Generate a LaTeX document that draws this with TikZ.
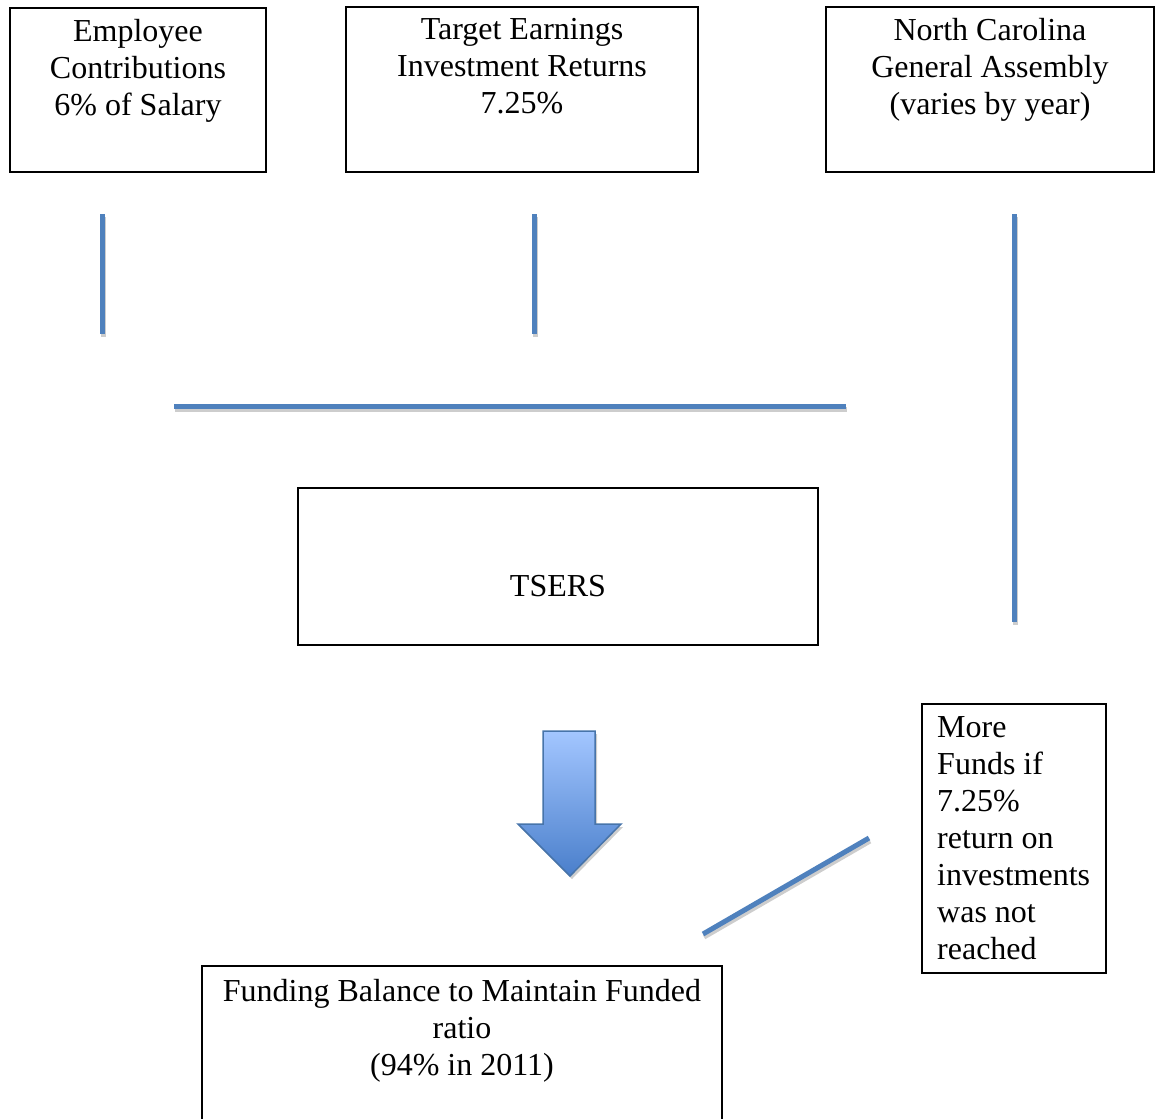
\documentclass[tikz,border=0pt]{standalone}
\usepackage{fontspec}
\setmainfont{Liberation Serif}
\usetikzlibrary{calc}
\definecolor{lineblue}{HTML}{4F81BD}
\definecolor{arrowtop}{HTML}{A3C6FF}
\definecolor{arrowbot}{HTML}{4A7FCB}
\definecolor{shadowgray}{HTML}{CDCDCD}
\tikzset{box/.style={draw, line width=1.5pt, inner sep=0pt},
  txt/.style={inner sep=0pt, align=center, font=\fontsize{32}{37}\selectfont},
  feed/.style={lineblue, line width=5pt, preaction={draw=shadowgray, line width=5pt, transform canvas={shift={(1pt,-3pt)}}}}}

\begin{document}
\begin{tikzpicture}[x=1pt,y=-1pt]
  \useasboundingbox (0,0) rectangle (1155,1118);

  % sources
  \node[box,minimum width=256,minimum height=164] (emp) at (138,90) {};
  \node[txt,anchor=north] (emptxt) at (138,19) {Employee\\Contributions\\6\% of Salary};
  \node[box,minimum width=352,minimum height=165] (ret) at (522,89.5) {};
  \node[txt,anchor=north] (rettxt) at (522,18) {Target Earnings\\Investment Returns\\7.25\%};
  \node[box,minimum width=328,minimum height=165] (nga) at (990,89.5) {};
  \node[txt,anchor=north] (ngatxt) at (990,18) {North Carolina\\General Assembly\\(varies by year)};

  % TSERS
  \node[box,minimum width=520,minimum height=157] (tsers) at (558,566.5) {};
  \node[txt] (tserstxt) at (558,586) {TSERS};

  % extra funds
  \node[box,minimum width=184,minimum height=269] (more) at (1014,838.5) {};
  \node[txt,align=left,anchor=north west] (moretxt) at (937,716) {More\\Funds if\\7.25\%\\return on\\investments\\was not\\reached};

  % funded ratio
  \node[box,minimum width=520,minimum height=164] (fund) at (462,1048) {};
  \node[txt,anchor=north] (fundtxt) at (462,979) {Funding Balance to Maintain Funded\\ratio\\(94\% in 2011)};

  % lines
  \coordinate (e1) at (102,214); \coordinate (e2) at (102,334);
  \coordinate (r1) at (534,214); \coordinate (r2) at (534,334);
  \coordinate (g1) at (1014,214); \coordinate (g2) at (1014,622);
  \coordinate (h1) at (174,406); \coordinate (h2) at (846,406);
  \coordinate (d1) at (703,934); \coordinate (d2) at (869,838);
  \draw[feed] (e1) -- (e2);
  \draw[feed] (r1) -- (r2);
  \draw[feed] (g1) -- (g2);
  \draw[feed] (h1) -- (h2);
  \draw[feed] (d1) -- (d2);

  % arrow
  \fill[shadowgray,shift={(2,3)}] (543,731) -- (595,731) -- (595,824) -- (621,824) -- (570,876) -- (518,824) -- (543,824) -- cycle;
  \draw[lineblue!90!black,line width=1.5pt,top color=arrowtop,bottom color=arrowbot] (543,731) -- (595,731) -- (595,824) -- (621,824) -- (570,876) -- (518,824) -- (543,824) -- cycle;
\end{tikzpicture}
\end{document}
